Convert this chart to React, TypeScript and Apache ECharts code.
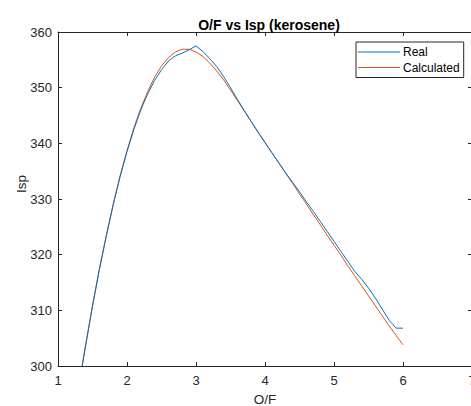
import React, { useEffect, useRef } from "react";
import * as echarts from "echarts";

const chartTitle = "O/F vs Isp (kerosene)";
const xName = "O/F";
const yName = "Isp";
const seriesNames = ["Real", "Calculated"];

const realOF = [1.35, 1.4, 1.5, 1.6, 1.7, 1.8, 1.9, 2.0, 2.1, 2.2, 2.3, 2.4, 2.5, 2.6, 2.7, 2.8, 2.9, 3.0, 3.1, 3.2, 3.3, 3.4, 3.5, 3.6, 3.7, 3.8, 3.9, 4.0, 4.1, 4.2, 4.3, 4.4, 4.5, 4.6, 4.7, 4.8, 4.9, 5.0, 5.1, 5.2, 5.3, 5.4, 5.5, 5.6, 5.7, 5.8, 5.9, 6.0];
const realIsp = [300, 303.6, 310.7, 317.3, 323.3, 328.9, 334.0, 338.5, 342.5, 346.0, 348.9, 351.3, 353.2, 354.8, 355.7, 356.2, 356.8, 357.5, 356.5, 355.2, 353.8, 352.0, 350.0, 347.9, 345.9, 343.9, 342.0, 340.1, 338.3, 336.5, 334.7, 333.0, 331.3, 329.5, 327.8, 326.0, 324.2, 322.4, 320.6, 318.8, 317.0, 315.6, 314.0, 312.2, 310.2, 308.2, 306.8, 306.8];

const calcOF = [1.35, 1.4, 1.5, 1.6, 1.7, 1.8, 1.9, 2.0, 2.1, 2.2, 2.3, 2.4, 2.5, 2.6, 2.7, 2.8, 2.9, 3.0, 3.1, 3.2, 3.3, 3.4, 3.5, 3.6, 3.7, 3.8, 3.9, 4.0, 4.1, 4.2, 4.3, 4.4, 4.5, 4.6, 4.7, 4.8, 4.9, 5.0, 5.1, 5.2, 5.3, 5.4, 5.5, 5.6, 5.7, 5.8, 5.9, 6.0];
const calcIsp = [300, 303.8, 310.9, 317.5, 323.5, 329.1, 334.2, 338.7, 342.8, 346.3, 349.3, 351.9, 353.9, 355.4, 356.4, 356.9, 356.9, 356.4, 355.6, 354.4, 353.0, 351.4, 349.6, 347.7, 345.8, 343.9, 342.0, 340.2, 338.3, 336.5, 334.6, 332.8, 330.9, 329.1, 327.2, 325.4, 323.5, 321.7, 319.9, 318.0, 316.2, 314.4, 312.6, 310.8, 309.0, 307.2, 305.5, 303.8];

const xMin = 1, xMax = 7, xStep = 1;
const yMin = 300, yMax = 360, yStep = 10;

const FONT = "'Liberation Sans', Arial, Helvetica, sans-serif";
const AXC = "#262626";

export default function App() {
  const ref = useRef<HTMLDivElement>(null);
  useEffect(() => {
    if (!ref.current) return;
    const chart = echarts.init(ref.current, undefined, { renderer: "svg" });
    const tickCommon = { show: true, inside: true, length: 4, lineStyle: { color: AXC, width: 1 } };
    chart.setOption({
      animation: false,
      backgroundColor: "#ffffff",
      title: {
        text: chartTitle,
        left: 264,
        textAlign: "center",
        top: 13,
        textStyle: { fontFamily: FONT, fontSize: 14, fontWeight: "bold", color: "#000" },
      },
      grid: { left: 58, top: 32, width: 414, height: 334, containLabel: false, outerBoundsMode: "none" },
      legend: {
        orient: "vertical",
        left: 356,
        top: 42,
        padding: [3, 4, 3, 2],
        itemGap: 1.5,
        itemWidth: 42,
        itemHeight: 1,
        icon: "rect",
        borderColor: AXC,
        borderWidth: 1,
        backgroundColor: "#fff",
        textStyle: { fontFamily: FONT, fontSize: 12, color: "#000", lineHeight: 14, padding: [0, 0, 0, -2] },
        data: seriesNames,
      },
      xAxis: [
        {
          type: "value",
          min: xMin,
          max: xMax,
          interval: xStep,
          name: xName,
          nameLocation: "middle",
          nameGap: 26,
          nameTextStyle: { fontFamily: FONT, fontSize: 13.5, color: AXC },
          axisLine: { show: true, lineStyle: { color: AXC, width: 1 } },
          axisTick: tickCommon,
          axisLabel: { show: true, fontFamily: FONT, fontSize: 13, color: AXC, margin: 8, showMinLabel: true, showMaxLabel: true },
          splitLine: { show: false },
        },
        {
          type: "value",
          position: "top",
          min: xMin,
          max: xMax,
          interval: xStep,
          axisLine: { show: true, lineStyle: { color: AXC, width: 1 } },
          axisTick: tickCommon,
          axisLabel: { show: false },
          splitLine: { show: false },
        },
      ],
      yAxis: [
        {
          type: "value",
          min: yMin,
          max: yMax,
          interval: yStep,
          axisLine: { show: true, lineStyle: { color: AXC, width: 1 } },
          axisTick: tickCommon,
          axisLabel: { show: true, fontFamily: FONT, fontSize: 13, color: AXC, margin: 6 },
          splitLine: { show: false },
        },
        {
          type: "value",
          position: "right",
          min: yMin,
          max: yMax,
          interval: yStep,
          axisLine: { show: true, lineStyle: { color: AXC, width: 1 } },
          axisTick: tickCommon,
          axisLabel: { show: false },
          splitLine: { show: false },
        },
      ],
      graphic: [
        {
          type: "text",
          x: 21,
          y: 184,
          rotation: Math.PI / 2,
          style: {
            text: yName,
            font: `13.5px ${FONT}`,
            fill: AXC,
            align: "center",
            verticalAlign: "middle",
          },
        },
      ],
      series: [
        {
          name: seriesNames[0],
          type: "line",
          xAxisIndex: 0,
          yAxisIndex: 0,
          data: realOF.map((x, i) => [x, realIsp[i]]),
          showSymbol: false,
          symbol: "none",
          clip: true,
          color: "#0072BD",
          lineStyle: { color: "#0072BD", width: 1 },
          z: 3,
        },
        {
          name: seriesNames[1],
          type: "line",
          xAxisIndex: 0,
          yAxisIndex: 0,
          data: calcOF.map((x, i) => [x, calcIsp[i]]),
          showSymbol: false,
          symbol: "none",
          clip: true,
          color: "#D95319",
          lineStyle: { color: "#D95319", width: 1 },
          z: 2,
        },
      ],
    });
    return () => chart.dispose();
  }, []);
  return (
    <div
      ref={ref}
      style={{ position: "fixed", left: 0, top: 0, width: 471, height: 406, background: "#fff" }}
    />
  );
}
